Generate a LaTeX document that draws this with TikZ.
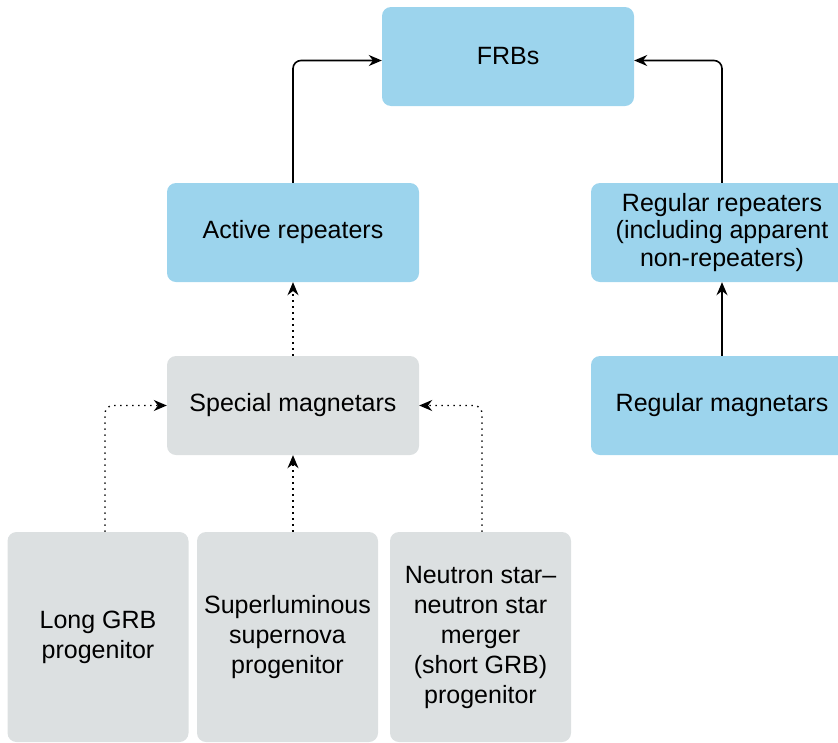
\documentclass[tikz,border=0pt]{standalone}
\usepackage{fontspec}
\setmainfont{Liberation Sans}
\usetikzlibrary{arrows.meta}
\definecolor{frbblue}{RGB}{156,212,237}
\definecolor{maggray}{RGB}{220,224,225}
\begin{document}
\begin{tikzpicture}[x=1pt, y=-1pt,
  box/.style={rounded corners=9pt,inner sep=0pt,align=center,minimum width=252pt,minimum height=99pt,font=\fontsize{25}{27.5}\selectfont},
  srcbox/.style={box,fill=maggray,minimum width=181pt,minimum height=210pt,font=\fontsize{25}{30}\selectfont},
  link/.style={line width=1.6pt,rounded corners=8pt,-{Stealth[length=13pt,width=11pt]}},
  weak/.style={link,line width=1.4pt,dash pattern=on 1.4pt off 4.6pt}]
\useasboundingbox (0,0) rectangle (838,742);
\clip (0,0) rectangle (838,742);
% blue: observed classes
\node[box,fill=frbblue] (frb) at (508,56.5) {FRBs};
\node[box,fill=frbblue] (act) at (293,232.5) {Active repeaters};
\node[box,fill=frbblue,minimum width=262pt] (rrep) at (722,232.5) {Regular repeaters\\(including apparent\\non-repeaters)};
\node[box,fill=frbblue,minimum width=262pt] (rmag) at (722,405.5) {Regular magnetars};
% grey: sources
\node[box,fill=maggray] (spec) at (293,405.5) {Special magnetars};
\node[srcbox] (lgrb) at (98,637) {Long GRB\\progenitor};
\node[srcbox] (slsn) at (287.5,637) {Superluminous\\supernova\\progenitor};
\node[srcbox] (nsns) at (480.5,637) {Neutron star\textendash\\neutron star\\merger\\(short GRB)\\progenitor};
% connectors
\draw[link] (act.north) |- ([yshift=-4pt]frb.west);
\draw[link] (rrep.north) |- ([yshift=-4pt]frb.east);
\draw[link] (rmag.north) -- (rrep.south);
\draw[weak] (spec.north) -- (act.south);
\draw[weak] ([xshift=7pt]lgrb.north) |- (spec.west);
\draw[weak] (slsn.north -| spec.south) -- (spec.south);
\draw[weak] ([xshift=1.5pt]nsns.north) |- (spec.east);
\end{tikzpicture}
\end{document}
